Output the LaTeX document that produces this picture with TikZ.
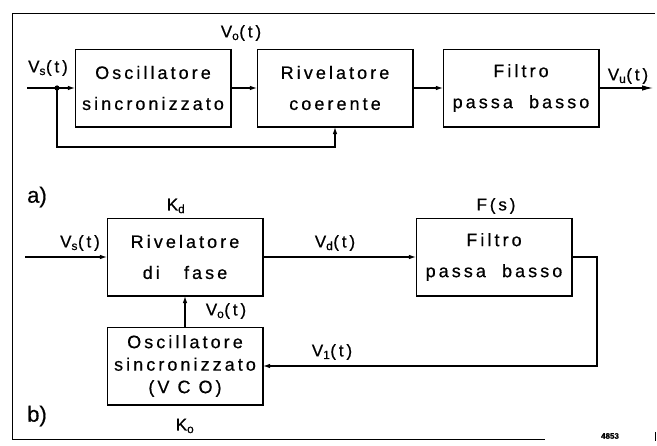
\documentclass[tikz,border=0pt]{standalone}
\usepackage{fontspec}
\setmainfont{Liberation Sans}[LetterSpace=17,FakeBold=0.6]
\newfontfamily\plainfont{Liberation Sans}[FakeBold=0.6]
\usetikzlibrary{arrows.meta}
\begin{document}
\begin{tikzpicture}[x=1pt,y=-1pt,
  box/.style={draw, line width=1.1pt, minimum width=155pt, minimum height=77pt, align=center, inner sep=0pt, font=\fontsize{18}{31}\selectfont},
  boxshade/.style={line width=2.6pt},
  conn/.style={line width=1.1pt, -{Latex[length=7pt,width=4.5pt]}},
  bigconn/.style={line width=1.1pt, -{Latex[length=11pt,width=5.5pt]}},
  plain/.style={line width=1.1pt},
  lbl/.style={font=\fontsize{17}{18}\selectfont, inner sep=0pt},
  tag/.style={font=\plainfont\fontsize{22}{24}\selectfont, inner sep=0pt}]
\useasboundingbox (0,0) rectangle (657,446);

% frame
\draw[line width=1pt] (655,14) -- (12,14) -- (12,440) -- (545,440);
\draw[line width=0.8pt] (655,432) -- (655,441);

% part a)
\node[box] (osc) at (153,88) {Oscillatore\\sincronizzato};
\node[box] (riv) at (335,88) {Rivelatore\\coerente};
\node[box] (fil) at (521,88) {Filtro\\passa\ \ basso};

\coordinate (in1) at (27,88);
\coordinate (dot) at (57,88);
\coordinate (fb) at (335,147);
\coordinate (out) at (653,88);
\draw[plain] (in1) -- (dot);
\fill (dot) circle (2.6pt);
\draw[conn] (dot) -- (osc.west);
\draw[conn] (osc.east) -- (riv.west);
\draw[conn] (riv.east) -- (fil.west);
\draw[bigconn] (fil.east) -- (out);
\draw[conn] (dot) |- (fb) -- (riv.south);

\node[lbl] (lvs1) at (48,68) {V\textsubscript{s}(t)};
\node[lbl] (lvo1) at (241,33) {V\textsubscript{o}(t)};
\node[lbl] (lvu) at (628,76) {V\textsubscript{u}(t)};
\node[tag] (ta) at (37,197) {a)};

% part b)
\node[box] (rdf) at (185,257) {Rivelatore\\di\ \ \ fase};
\node[box] (fps) at (494,257) {Filtro\\passa\ \ basso};
\node[box, font=\fontsize{18}{22.5}\selectfont] (vco) at (185,366) {Oscillatore\\sincronizzato\\(V C O)};

\coordinate (in2) at (25,257);
\coordinate (rc) at (597,257);
\draw[conn] (in2) -- (rdf.west);
\draw[conn] (rdf.east) -- (fps.west);
\draw[conn] (fps.east) -- (rc) |- (vco.east);
\draw[conn] (vco.north) -- (rdf.south);

\node[lbl] (lkd) at (176,206) {K\textsubscript{d}};
\node[lbl] (lfs) at (496,206) {F(s)};
\node[lbl] (lvs2) at (80,243) {V\textsubscript{s}(t)};
\node[lbl] (lvd) at (335,243) {V\textsubscript{d}(t)};
\node[lbl] (lvo2) at (226,311) {V\textsubscript{o}(t)};
\node[lbl] (lv1) at (332,352) {V\textsubscript{1}(t)};
\node[lbl] (lko) at (185,426) {K\textsubscript{o}};
\node[tag] (tb) at (37,416) {b)};
\node[inner sep=0pt, font=\plainfont\bfseries\fontsize{8}{9}\selectfont] (num) at (610,436) {4853};

% thicker right and bottom edges of the boxes
\foreach \n in {osc,riv,fil,rdf,fps,vco}
  \draw[boxshade] (\n.north east) -- (\n.south east) -- (\n.south west);
\end{tikzpicture}
\end{document}
